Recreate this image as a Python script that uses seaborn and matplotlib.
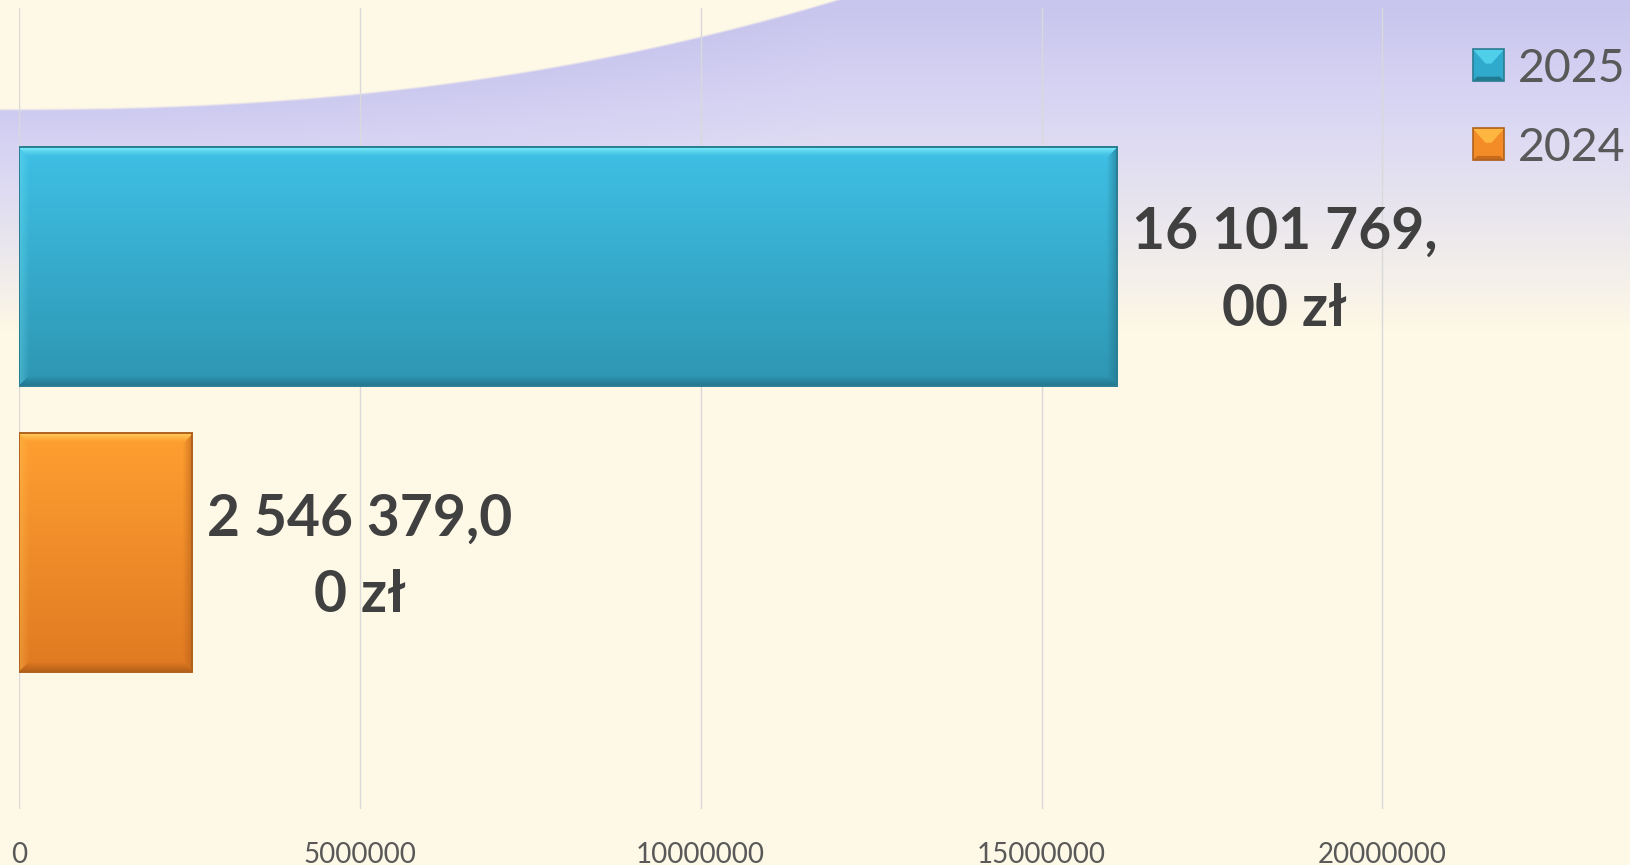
import numpy as np
import pandas as pd
import matplotlib
matplotlib.use("Agg")
import matplotlib.pyplot as plt
import seaborn as sns
from matplotlib.patches import Patch, Rectangle, Polygon
from matplotlib.legend_handler import HandlerBase
from matplotlib.colors import to_rgb

# ---- data -------------------------------------------------------------
years = ["2025", "2024"]
amounts = [16101769.00, 2546379.00]
tick_values = [0, 5000000, 10000000, 15000000, 20000000]
tick_labels = ["0", "5000000", "10000000", "15000000", "20000000"]

# ---- styling ----------------------------------------------------------
face_top = {"2025": "#3FC0E5", "2024": "#FF9F31"}
face_bottom = {"2025": "#2E96B3", "2024": "#E07A22"}
highlight = {"2025": "#7EF0FC", "2024": "#FFD060"}
shadow = {"2025": "#22748A", "2024": "#B35E18"}
outline = {"2025": "#2A7D92", "2024": "#B0621E"}
legend_face = {"2025": "#2FA9CC", "2024": "#F38B27"}
legend_light = {"2025": "#55D6EF", "2024": "#FFBE45"}
legend_dark = {"2025": "#1F7A92", "2024": "#C76A1C"}

# background colour ramp, from the wave edge down to the page colour
RAMP_T = [0.0, 0.35, 0.65, 1.0]
RAMP_C = [to_rgb(c) for c in ["#C8C5EE", "#DAD7F4", "#E9E6EE", "#FEF8E6"]]
CREAM = np.array(to_rgb("#FEF8E6"))
TEXT_DARK = "#404040"
TEXT_GREY = "#595959"

W_PX, H_PX, DPI = 1630, 865, 100


def money_label(v):
    s = f"{v:,.2f}".replace(",", " ").replace(".", ",") + " zł"
    return s[:11] + "\n" + s[11:]


def background():
    yy, xx = np.mgrid[0:H_PX, 0:W_PX].astype(float)
    curve = 108 * (1 - np.clip(xx / 832, 0, None) ** 2.3)
    off = 0.75 * np.clip(curve, 0, None)
    t = np.clip((yy - off) / (330 - off), 0, 1)
    img = np.stack([np.interp(t, RAMP_T, [c[k] for c in RAMP_C]) for k in range(3)], axis=-1)
    inside = np.clip((yy - curve) / 2.5, 0, 1)[..., None]
    return CREAM * (1 - inside) + img * inside


def bevel_image(h, w, top, bottom, light, dark, b=10):
    t = np.linspace(0, 1, h)[:, None, None]
    base = (1 - t) * np.array(to_rgb(top)) + t * np.array(to_rgb(bottom))
    img = np.broadcast_to(base, (h, w, 3)).copy()
    ii, jj = np.mgrid[0:h, 0:w]
    d = np.stack([ii, h - 1 - ii, jj, w - 1 - jj])
    edge = d.argmin(0)
    f = np.clip(1 - d.min(0) / b, 0, 1)
    L = np.array(to_rgb(light))
    D = np.array(to_rgb(dark))
    strength = np.array([0.95, 0.9, 0.3, 0.6])[edge] * f ** np.array([1.6, 1.0, 1.0, 1.0])[edge]
    target = np.where((edge == 0)[..., None] | (edge == 2)[..., None], L, D)
    s = strength[..., None]
    return img * (1 - s) + target * s


class BevelSquare(HandlerBase):
    """Legend key drawn as a small bevelled square."""

    def __init__(self, light, dark):
        super().__init__()
        self.light, self.dark = light, dark

    def create_artists(self, legend, orig_handle, xdescent, ydescent, width, height, fontsize, trans):
        x0, y0 = -xdescent, -ydescent
        x1, y1 = x0 + width, y0 + height
        bt, bb = 0.45 * height, 0.14 * height
        base = Rectangle((x0, y0), width, height, facecolor=orig_handle.get_facecolor(),
                         edgecolor="none", transform=trans)
        top = Polygon([(x0, y1), (x1, y1), (x1 - bt * 0.9, y1 - bt), (x0 + bt * 0.9, y1 - bt)],
                      closed=True, facecolor=self.light, edgecolor="none", alpha=0.85, transform=trans)
        bot = Polygon([(x0, y0), (x1, y0), (x1 - bb, y0 + bb), (x0 + bb, y0 + bb)],
                      closed=True, facecolor=self.dark, edgecolor="none", transform=trans)
        rim = Rectangle((x0, y0), width, height, facecolor="none",
                        edgecolor=orig_handle.get_edgecolor(), linewidth=1.2, transform=trans)
        return [base, top, bot, rim]


plt.rcParams["font.family"] = ["Lato", "DejaVu Sans"]

fig = plt.figure(figsize=(W_PX / DPI, H_PX / DPI), dpi=DPI)
bg = fig.add_axes([0, 0, 1, 1], zorder=-5)
bg.imshow(background(), aspect="auto", interpolation="bilinear")
bg.set_axis_off()

ax = fig.add_axes([18.7 / W_PX, 1 - 808.7 / H_PX, 1 - 18.7 / W_PX, (808.7 - 8.3) / H_PX])
ax.set_facecolor("none")

df = pd.DataFrame({"year": years, "amount": amounts})
sns.barplot(data=df, x="amount", y="year", hue="year", order=years, hue_order=years,
            palette=legend_face, orient="h", width=0.834, legend=False, ax=ax)

XLIM = (0, 23.63e6)
YLIM = (1.894, -0.8995)
ax.set_xlim(*XLIM)
ax.set_ylim(*YLIM)

# gradient + bevel fill clipped to every bar
fig.canvas.draw()
for patch, yr in zip(ax.patches, years):
    x0, y0, w, h = patch.get_x(), patch.get_y(), patch.get_width(), patch.get_height()
    (px0, py0), (px1, py1) = ax.transData.transform([(x0, y0), (x0 + w, y0 + h)])
    wpx, hpx = int(round(abs(px1 - px0))), int(round(abs(py1 - py0)))
    img = bevel_image(hpx, wpx, face_top[yr], face_bottom[yr], highlight[yr], shadow[yr])
    im = ax.imshow(img, extent=(x0, x0 + w, y0 + h, y0), origin="upper",
                   aspect="auto", interpolation="bilinear", zorder=2)
    im.set_clip_path(patch)
    patch.set_facecolor("none")
    patch.set_edgecolor(outline[yr])
    patch.set_linewidth(1.4)
    patch.set_zorder(3)

ax.set_xlim(*XLIM)
ax.set_ylim(*YLIM)

# value labels
for patch, val in zip(ax.patches, amounts):
    yc = patch.get_y() + patch.get_height() / 2
    ax.annotate(money_label(val), xy=(val, yc), xytext=(15, -5), textcoords="offset pixels",
                ha="left", va="center", multialignment="center", linespacing=1.55,
                fontsize=41, fontweight="bold", color=TEXT_DARK, zorder=5)

# axes cosmetics
ax.set_xticks(tick_values)
ax.set_xticklabels(tick_labels, fontsize=20, color=TEXT_GREY)
ax.tick_params(axis="x", length=0, pad=24)
ax.tick_params(axis="y", left=False, labelleft=False)
ax.set_xlabel("")
ax.set_ylabel("")
ax.grid(axis="x", color="#D9D9D9", linewidth=1.0)
ax.grid(axis="y", visible=False)
ax.set_axisbelow(True)
for sp in ax.spines.values():
    sp.set_visible(False)

# legend
handles = [Patch(facecolor=legend_face[y], edgecolor=outline[y]) for y in years]
hmap = {h: BevelSquare(legend_light[y], legend_dark[y]) for h, y in zip(handles, years)}
fig.legend(handles, years, handler_map=hmap, loc="upper right",
           bbox_to_anchor=(0.9975, 1 - 47.5 / H_PX),
           frameon=False, fontsize=33.5, labelcolor=TEXT_GREY, handlelength=0.68,
           handleheight=0.68, handletextpad=0.3, labelspacing=0.8,
           borderpad=0, borderaxespad=0)

fig.savefig("out.png", dpi=DPI)
